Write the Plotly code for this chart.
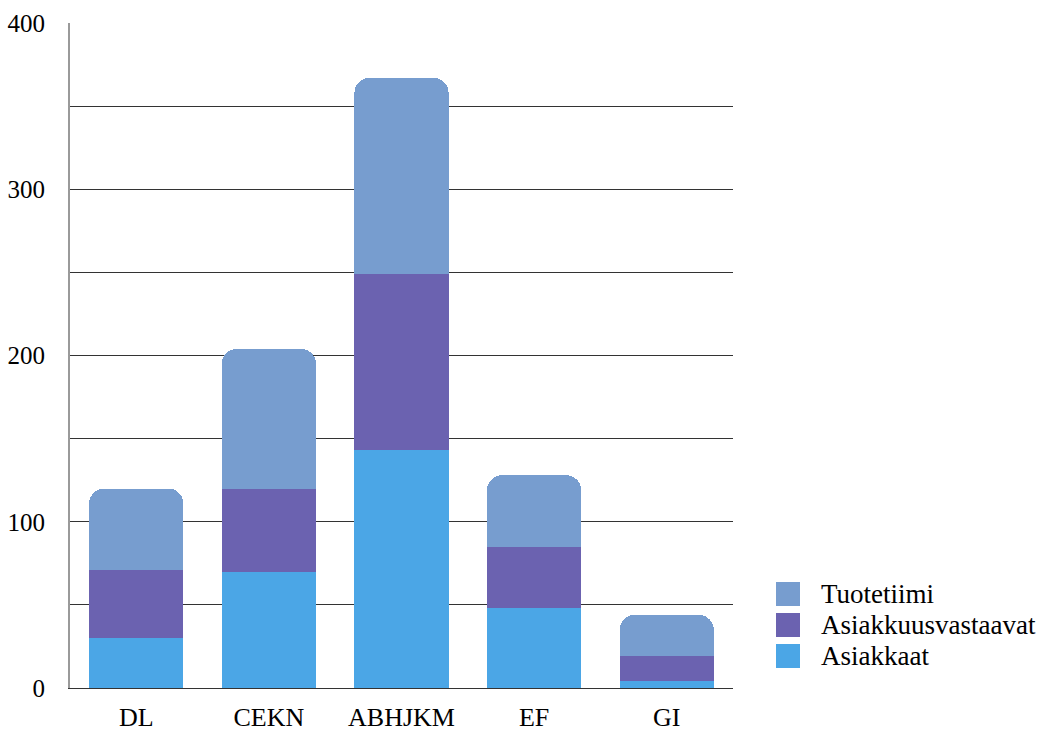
import plotly.graph_objects as go

# Teams (categories) and stacked counts per group
categories = ["DL", "CEKN", "ABHJKM", "EF", "GI"]
asiakkaat = [30, 70, 143, 48, 4]
asiakkuusvastaavat = [41, 50, 106, 37, 15]
tuotetiimi = [49, 84, 118, 43, 25]

series_names = ["Asiakkaat", "Asiakkuusvastaavat", "Tuotetiimi"]
series_values = [asiakkaat, asiakkuusvastaavat, tuotetiimi]
series_colors = ["#4BA6E6", "#6B62B0", "#779DCF"]

y_tick_values = [0, 100, 200, 300, 400]

FONT = "Liberation Serif"

fig = go.Figure()
for name, vals, col in zip(series_names, series_values, series_colors):
    fig.add_trace(go.Bar(
        x=categories, y=vals, name=name,
        marker=dict(color=col, line=dict(width=0)),
        showlegend=False,
    ))

# Legend drawn as large swatches with text, top entry = last stacked series
W, H = 1056, 731
PL, PR, PT, PB = 70, 733, 23, 688
legend_x0 = 776
legend_y0 = 582
swatch = 24
step = 31


def px_x(v):
    return (v - PL) / (PR - PL)


def px_y(v):
    return (PB - v) / (PB - PT)


for i, (name, col) in enumerate(zip(series_names[::-1], series_colors[::-1])):
    top = legend_y0 + i * step
    fig.add_shape(
        type="rect", xref="paper", yref="paper",
        x0=px_x(legend_x0), x1=px_x(legend_x0 + swatch),
        y0=px_y(top + swatch), y1=px_y(top),
        fillcolor=col, line=dict(width=0),
    )
    fig.add_annotation(
        xref="paper", yref="paper",
        x=px_x(legend_x0 + swatch + 19),
        y=px_y(top + swatch / 2),
        xanchor="left", yanchor="middle",
        text=name, showarrow=False,
        font=dict(family=FONT, size=27, color="black"),
    )

fig.update_layout(
    width=W, height=H,
    barmode="stack",
    bargap=0.29,
    barcornerradius=15,
    plot_bgcolor="white",
    paper_bgcolor="white",
    margin=dict(l=PL, r=W - PR, t=PT, b=H - PB, autoexpand=False),
    font=dict(family=FONT, color="black"),
)

fig.update_xaxes(
    automargin=False,
    showline=True, linecolor="#333333", linewidth=1,
    showgrid=False,
    ticks="outside", ticklen=6, tickcolor="rgba(0,0,0,0)",
    tickfont=dict(family=FONT, size=26, color="black"),
)

fig.update_yaxes(
    automargin=False,
    range=[0, 400],
    tickvals=y_tick_values,
    showline=True, linecolor="#9a9a9a", linewidth=2,
    showgrid=True, gridcolor="#333333", gridwidth=1,
    minor=dict(dtick=50, showgrid=True, gridcolor="#333333", gridwidth=1),
    zeroline=False,
    ticks="outside", ticklen=18, tickcolor="rgba(0,0,0,0)",
    tickfont=dict(family=FONT, size=25, color="black"),
)

fig.write_html("out.html")
